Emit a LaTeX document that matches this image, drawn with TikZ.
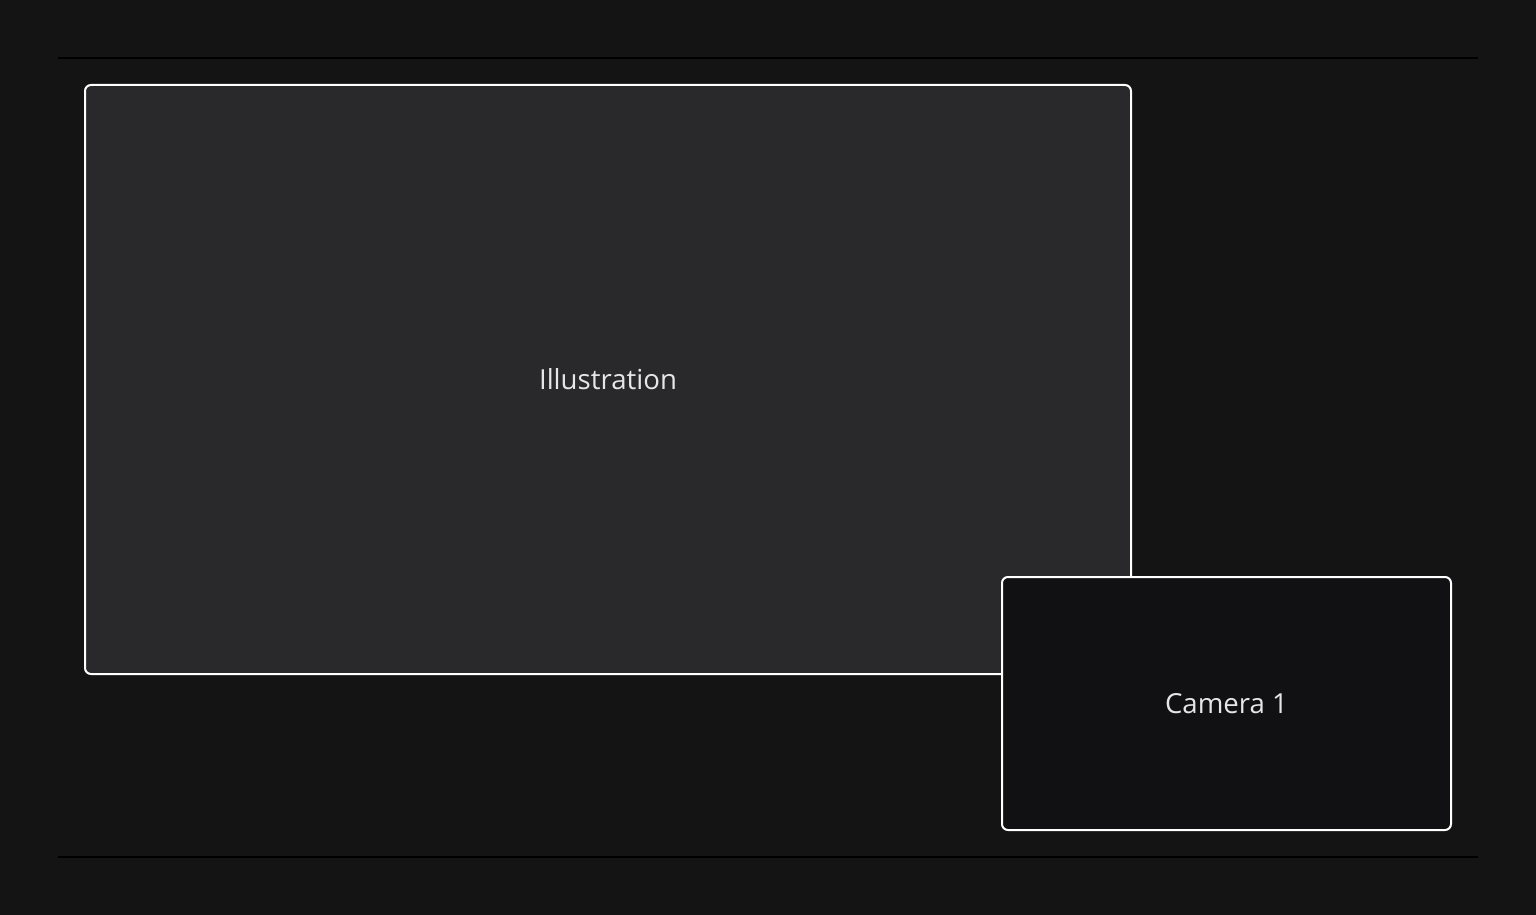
\documentclass[tikz,border=0pt]{standalone}
\usepackage{fontspec}
\setmainfont{Open Sans}
\usetikzlibrary{positioning}
\definecolor{bgc}{HTML}{141414}
\definecolor{panelc}{HTML}{29292B}
\definecolor{camc}{HTML}{111113}
\definecolor{textc}{HTML}{E6E6E6}
\begin{document}
\begin{tikzpicture}[x=0.5pt, y=-0.5pt,
    panel/.style={draw=white, line width=1pt, rounded corners=3pt, text=textc, font=\fontsize{13.8}{16}\selectfont},
    rule/.style={draw=black, line width=1pt}]
        \fill[bgc] (0,0) rectangle (1536,915);
        \useasboundingbox (0,0) rectangle (1536,915);
        \coordinate (tl) at (58,58);
        \coordinate (tr) at (1478,58);
        \coordinate (bl) at (58,857);
        \coordinate (br) at (1478,857);
        \draw[rule] (tl) -- (tr);
        \draw[rule] (bl) -- (br);
        \node[panel, fill=panelc, minimum width=523pt, minimum height=294.5pt] (illus) at (608,379.5) {Illustration};
        \node[panel, fill=camc, minimum width=224.5pt, minimum height=126.5pt] (cam) at (1226.5,703.5) {Camera 1};
\end{tikzpicture}
\end{document}
